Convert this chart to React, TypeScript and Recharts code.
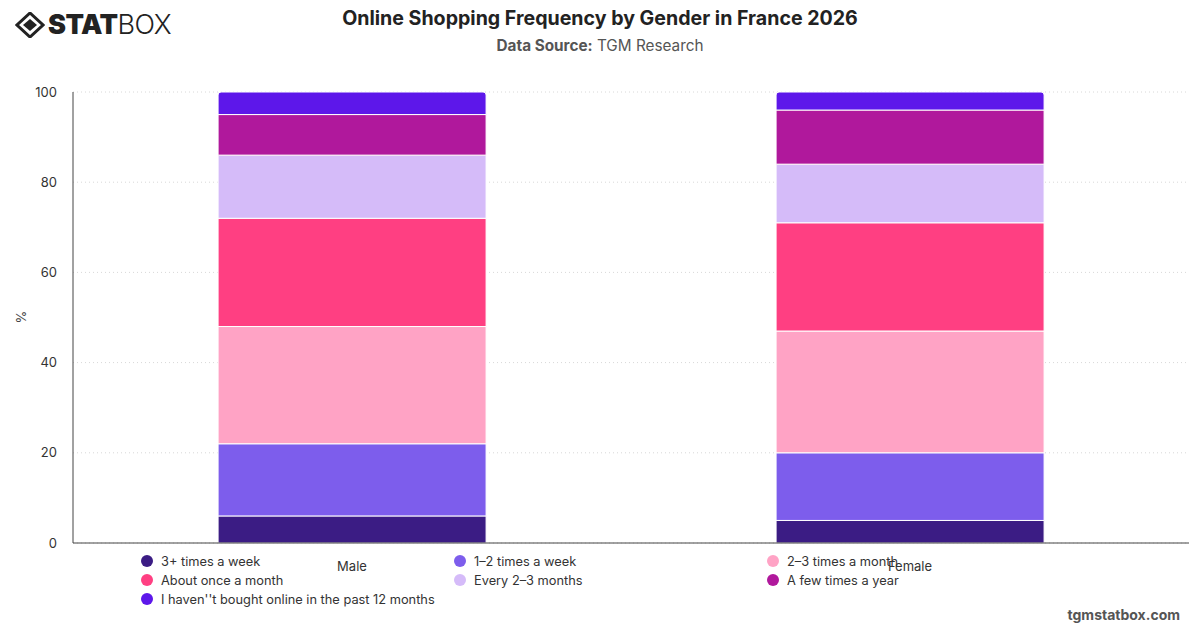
import React from "react"
import { BarChart, Bar, XAxis, YAxis, CartesianGrid } from "recharts"

const genders = ["Male", "Female"]

const seriesNames = [
  "3+ times a week",
  "1–2 times a week",
  "2–3 times a month",
  "About once a month",
  "Every 2–3 months",
  "A few times a year",
  "I haven''t bought online in the past 12 months",
]

// share of respondents (%), index matches genders
const threePlusWeek = [6, 5]
const oneTwoWeek = [16, 15]
const twoThreeMonth = [26, 27]
const onceMonth = [24, 24]
const everyTwoThreeMonths = [14, 13]
const fewTimesYear = [9, 12]
const notBought = [5, 4]

const seriesColors = [
  "#3b1c84",
  "#7d5dec",
  "#ffa3c5",
  "#ff3f82",
  "#d5bbf9",
  "#b0189c",
  "#5d17ea",
]

const yTicks = [0, 20, 40, 60, 80, 100]

const seriesValues = [
  threePlusWeek,
  oneTwoWeek,
  twoThreeMonth,
  onceMonth,
  everyTwoThreeMonths,
  fewTimesYear,
  notBought,
]

const chartData = genders.map((g, i) => {
  const row: Record<string, string | number> = { gender: g }
  seriesNames.forEach((name, s) => {
    row[name] = seriesValues[s][i]
  })
  return row
})

const FONT = "Inter, 'Noto Sans', sans-serif"

function Logo() {
  return (
    <div style={{ position: "absolute", left: 15, top: 8, display: "flex", alignItems: "center" }}>
      <svg width="30" height="26" viewBox="0 0 30 26">
        <polygon points="15,1 28,13 15,25 2,13" fill="none" stroke="#222" strokeWidth="3" />
        <polygon points="15,7 22,13 15,19 8,13" fill="#222" />
      </svg>
      <span style={{ fontFamily: FONT, fontSize: 27, fontWeight: 900, color: "#222", marginLeft: 3, letterSpacing: -0.5 }}>
        STAT
      </span>
      <span style={{ fontFamily: FONT, fontSize: 27, fontWeight: 300, color: "#222", letterSpacing: -0.5 }}>
        BOX
      </span>
    </div>
  )
}

function LegendBlock() {
  return (
    <div
      style={{
        position: "absolute",
        left: 141,
        top: 552,
        width: 950,
        display: "grid",
        gridTemplateColumns: "313px 313px 313px",
        rowGap: 1,
        fontFamily: FONT,
        fontSize: 12.8,
        color: "#333",
      }}
    >
      {seriesNames.map((name, i) => (
        <div key={name} style={{ display: "flex", alignItems: "center", height: 18 }}>
          <span
            style={{
              width: 12,
              height: 12,
              borderRadius: 6,
              background: seriesColors[i],
              marginRight: 8,
              flexShrink: 0,
            }}
          />
          <span style={{ whiteSpace: "nowrap" }}>{name}</span>
        </div>
      ))}
    </div>
  )
}

export default function App() {
  return (
    <div style={{ position: "absolute", left: 0, top: 0, width: 1200, height: 628, background: "#fff", overflow: "hidden" }}>
      <Logo />
      <div
        style={{
          position: "absolute",
          top: 6,
          width: 1200,
          textAlign: "center",
          fontFamily: FONT,
          fontSize: 19.6,
          fontWeight: 700,
          color: "#222",
        }}
      >
        Online Shopping Frequency by Gender in France 2026
      </div>
      <div
        style={{
          position: "absolute",
          top: 36,
          width: 1200,
          textAlign: "center",
          fontFamily: FONT,
          fontSize: 15.3,
          color: "#555",
        }}
      >
        <b>Data Source:</b> TGM Research
      </div>

      <div style={{ position: "absolute", left: 0, top: 0 }}>
        <BarChart
          width={1200}
          height={628}
          data={chartData}
          margin={{ top: 92, right: 11, left: 23, bottom: 55 }}
          barCategoryGap="26%"
        >
          <CartesianGrid vertical={false} stroke="#d8d8d8" strokeDasharray="1 3" />
          <XAxis
            dataKey="gender"
            axisLine={{ stroke: "#444" }}
            tickLine={false}
            tick={{ fill: "#333", fontSize: 13, fontFamily: FONT }}
            tickMargin={13}
            height={30}
          />
          <YAxis
            domain={[0, 100]}
            ticks={yTicks}
            width={50}
            axisLine={{ stroke: "#444" }}
            tickLine={false}
            tickSize={0}
            tickMargin={16}
            tick={{ fill: "#333", fontSize: 13, fontFamily: FONT }}
            label={{ value: "%", angle: -90, position: "insideLeft", offset: -2, dx: 0, dy: 6, fill: "#444", fontSize: 13, fontFamily: FONT }}
          />
          {seriesNames.map((name, i) => (
            <Bar
              key={name}
              dataKey={name}
              stackId="a"
              fill={seriesColors[i]}
              stroke="#fff"
              strokeWidth={1}
              radius={i === seriesNames.length - 1 ? [3, 3, 0, 0] : 0}
              isAnimationActive={false}
            />
          ))}
        </BarChart>
      </div>

      <LegendBlock />

      <div
        style={{
          position: "absolute",
          right: 20,
          top: 606,
          fontFamily: FONT,
          fontSize: 14,
          fontWeight: 700,
          color: "#555",
        }}
      >
        tgmstatbox.com
      </div>
    </div>
  )
}
